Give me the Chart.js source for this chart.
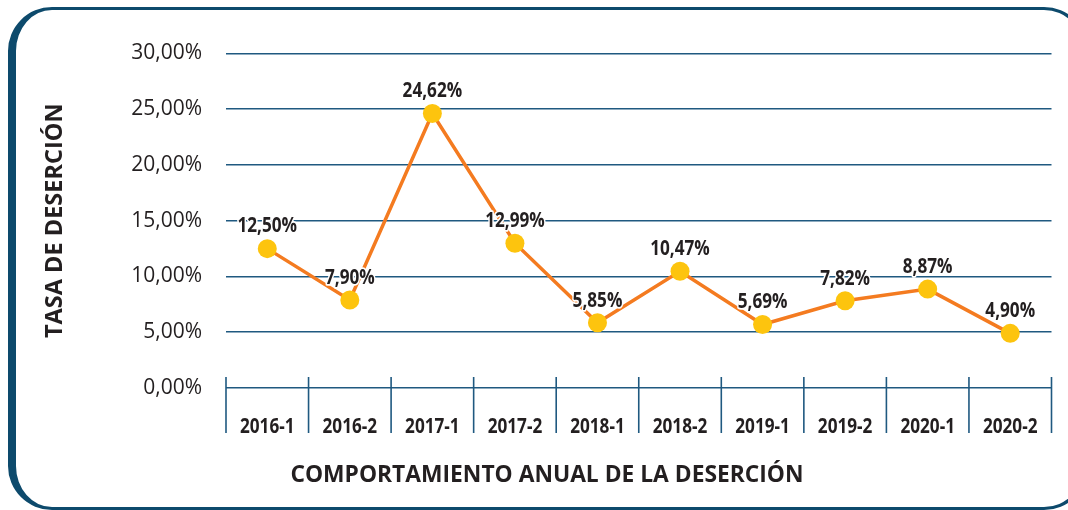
<!DOCTYPE html>
<html lang="es">
<head>
<meta charset="utf-8">
<title>Comportamiento anual de la deserción</title>
<script src="https://cdn.jsdelivr.net/npm/chart.js@4.4.1/dist/chart.umd.min.js"></script>
<style>
  html, body { margin: 0; padding: 0; background: #fff; }
  .wrap { position: relative; width: 1068px; height: 510px; overflow: hidden; }
  .frame {
    position: absolute; left: 8px; top: 7px; width: 1080px; height: 503px;
    box-sizing: border-box;
    border-style: solid; border-color: #0d4a6c;
    border-width: 3px 4px 3px 8px;
    border-radius: 44px;
  }
  canvas { position: absolute; left: 0; top: 0; }
  .xtitle {
    position: absolute; left: 0; width: 1094px; top: 458px;
    text-align: center;
    font: bold 22.8px 'Open Sans', sans-serif; color: #231f20;
  }
</style>
</head>
<body>
<div class="wrap">
  <div class="frame"></div>
  <canvas id="desercionChart" width="1068" height="510"></canvas>
  <div class="xtitle">COMPORTAMIENTO ANUAL DE LA DESERCIÓN</div>
</div>
<script>
const periods = ['2016-1', '2016-2', '2017-1', '2017-2', '2018-1', '2018-2', '2019-1', '2019-2', '2020-1', '2020-2'];
const dropoutRate = [12.50, 7.90, 24.62, 12.99, 5.85, 10.47, 5.69, 7.82, 8.87, 4.90];
const yTicks = [0, 5, 10, 15, 20, 25, 30];

const pct = v => v.toFixed(2).replace('.', ',') + '%';

// bold text squeezed horizontally to look like a condensed face
function narrowText(ctx, txt, x, y, size, halo) {
  ctx.save();
  ctx.translate(x, y);
  ctx.scale(0.78, 1);
  ctx.font = 'bold ' + size + "px 'Open Sans', sans-serif";
  ctx.textAlign = 'center';
  ctx.textBaseline = 'alphabetic';
  const by = 0.357 * size;
  if (halo) {
    ctx.strokeStyle = '#fff';
    ctx.lineWidth = 3.5;
    ctx.lineJoin = 'round';
    ctx.strokeText(txt, 0, by);
  }
  ctx.fillStyle = '#231f20';
  ctx.fillText(txt, 0, by);
  ctx.restore();
}

// vertical separators between periods and the period labels
const periodAxis = {
  id: 'periodAxis',
  afterDraw(chart) {
    const x = chart.scales.x;
    const { ctx, chartArea } = chart;
    const half = (x.getPixelForValue(1) - x.getPixelForValue(0)) / 2;
    ctx.save();
    ctx.strokeStyle = '#1f5980';
    ctx.lineWidth = 1.6;
    for (let i = 0; i <= periods.length; i++) {
      const px = i < periods.length ? x.getPixelForValue(i) - half : x.getPixelForValue(i - 1) + half;
      ctx.beginPath();
      ctx.moveTo(px, chartArea.bottom - 11);
      ctx.lineTo(px, chartArea.bottom + 45);
      ctx.stroke();
    }
    ctx.restore();
    periods.forEach((p, i) => narrowText(ctx, p, x.getPixelForValue(i), chartArea.bottom + 37.5, 22, false));
  }
};

// value labels above each point
const pointLabels = {
  id: 'pointLabels',
  afterDatasetsDraw(chart) {
    const meta = chart.getDatasetMeta(0);
    meta.data.forEach((pt, i) => narrowText(chart.ctx, pct(dropoutRate[i]), pt.x, pt.y - 24, 22, true));
  }
};

new Chart(document.getElementById('desercionChart'), {
  type: 'line',
  data: {
    labels: periods,
    datasets: [{
      data: dropoutRate,
      borderColor: '#f47b20',
      borderWidth: 3.5,
      pointRadius: 9.5,
      pointHoverRadius: 9.5,
      pointBackgroundColor: '#fdc40e',
      pointBorderWidth: 0,
      tension: 0
    }]
  },
  options: {
    responsive: false,
    animation: false,
    layout: { padding: { left: 0, right: 16.5, top: 53.5, bottom: 0 } },
    plugins: { legend: { display: false }, tooltip: { enabled: false } },
    scales: {
      x: {
        offset: true,
        grid: { display: false },
        border: { display: false },
        ticks: { display: false },
        afterFit: s => { s.height = 122; }
      },
      y: {
        min: 0,
        max: 30,
        afterBuildTicks: s => { s.ticks = yTicks.map(v => ({ value: v })); },
        grid: { color: '#1f5980', lineWidth: 1.6, drawTicks: false },
        border: { display: false },
        ticks: {
          padding: 24,
          color: '#231f20',
          font: { family: "'Open Sans', sans-serif", size: 21 },
          callback: v => pct(v)
        },
        title: {
          display: true,
          text: 'TASA DE DESERCIÓN',
          color: '#231f20',
          font: { family: "'Open Sans', sans-serif", size: 23.5, weight: 'bold' },
          padding: { top: 41, bottom: 0 }
        },
        afterFit: s => { s.width = 226; }
      }
    }
  },
  plugins: [periodAxis, pointLabels]
});
</script>
</body>
</html>
